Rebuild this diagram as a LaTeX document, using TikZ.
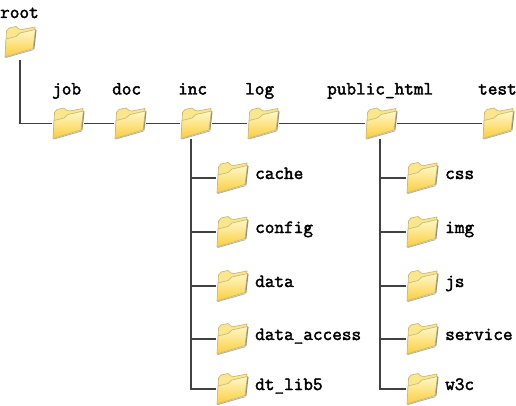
\documentclass[tikz,border=0pt]{standalone}
\usepackage{fontspec}
\setmonofont{Latin Modern Mono}[FakeBold=2.2]
\definecolor{folderedge}{RGB}{205,185,118}
\definecolor{foldershadow}{RGB}{150,145,125}
\definecolor{backfill}{RGB}{250,230,140}
\definecolor{fronttop}{RGB}{255,248,200}
\definecolor{frontbot}{RGB}{250,205,60}
\definecolor{linecol}{RGB}{65,65,65}
\tikzset{
  folderbox/.style={minimum width=32pt,minimum height=30pt,inner sep=0pt,outer sep=0pt},
  foldertext/.style={font=\ttfamily\fontsize{18.7}{18}\selectfont,text=black,inner sep=0pt,anchor=base west},
  conn/.style={draw=linecol,line width=1.1pt},
  pics/folderglyph/.style={code={
    % back of folder
    \path[fill=backfill,draw=folderedge,line width=.7pt,line join=round]
      (-13.5,-11) -- (-11,-14) -- (-4,-15.5) -- (-1,-13) -- (2,-12.5) -- (15,-15)
      -- (12,6) -- (-14.5,13) -- cycle;
    % front flap
    \path[shade,top color=fronttop,bottom color=frontbot,draw=folderedge,line width=.7pt,line join=round]
      (-15,15) -- (-14,-3) -- (-4,-5.5) -- (0,-9) -- (15.5,-12.5) -- (15,-9) -- (13,6.5) -- cycle;
    \draw[foldershadow,line width=1.1pt] (16,-12) -- (13.8,7);
    \draw[foldershadow!70,line width=.9pt] (-14.5,15.6) -- (13.5,7.6);
  }}
}
\newcommand{\folderat}[5]{% name, x, y, label, label x,y
  \node[folderbox] (#1) at (#2,#3) {};
  \pic at (#2,#3) {folderglyph};
  \node[foldertext] (#1label) at #5 {#4};
}
\begin{document}
\begin{tikzpicture}[x=1pt,y=-1pt]
\useasboundingbox (0,0) rectangle (516,406);
\fill[white] (0,0) rectangle (516,406);
\folderat{root}{20}{42}{root}{(0,18)}
\folderat{job}{68}{123.5}{job}{(52,94.5)}
\folderat{doc}{130}{123.5}{doc}{(112,94.5)}
\folderat{inc}{196}{123.5}{inc}{(178,94.5)}
\folderat{log}{263}{123.5}{log}{(245,94.5)}
\folderat{pub}{381}{123.5}{public\_html}{(327,94.5)}
\folderat{test}{498}{123.5}{test}{(478,94.5)}
\folderat{cache}{232}{178}{cache}{(255,179)}
\folderat{config}{232}{232}{config}{(255,233)}
\folderat{data}{232}{286}{data}{(255,287)}
\folderat{dataaccess}{232}{339}{data\_access}{(255,340)}
\folderat{dtlib}{232}{389}{dt\_lib5}{(255,390)}
\folderat{css}{422}{178}{css}{(445,179)}
\folderat{img}{422}{232}{img}{(445,233)}
\folderat{js}{422}{286}{js}{(445,287)}
\folderat{service}{422}{339}{service}{(445,340)}
\folderat{wthreec}{422}{389}{w3c}{(445,390)}
\coordinate (rootdrop) at (20,60);
\coordinate (incdrop) at (191,139);
\coordinate (pubdrop) at (380,139);
\draw[conn] (rootdrop) |- (job.west);
\draw[conn] (job.east) -- (doc.west);
\draw[conn] (doc.east) -- (inc.west);
\draw[conn] (inc.east) -- (log.west);
\draw[conn] (log.east) -- (pub.west);
\draw[conn] (pub.east) -- (test.west);
\foreach \t in {cache,config,data,dataaccess,dtlib}{\draw[conn] (incdrop) |- (\t.west);}
\foreach \t in {css,img,js,service,wthreec}{\draw[conn] (pubdrop) |- (\t.west);}
\end{tikzpicture}
\end{document}
